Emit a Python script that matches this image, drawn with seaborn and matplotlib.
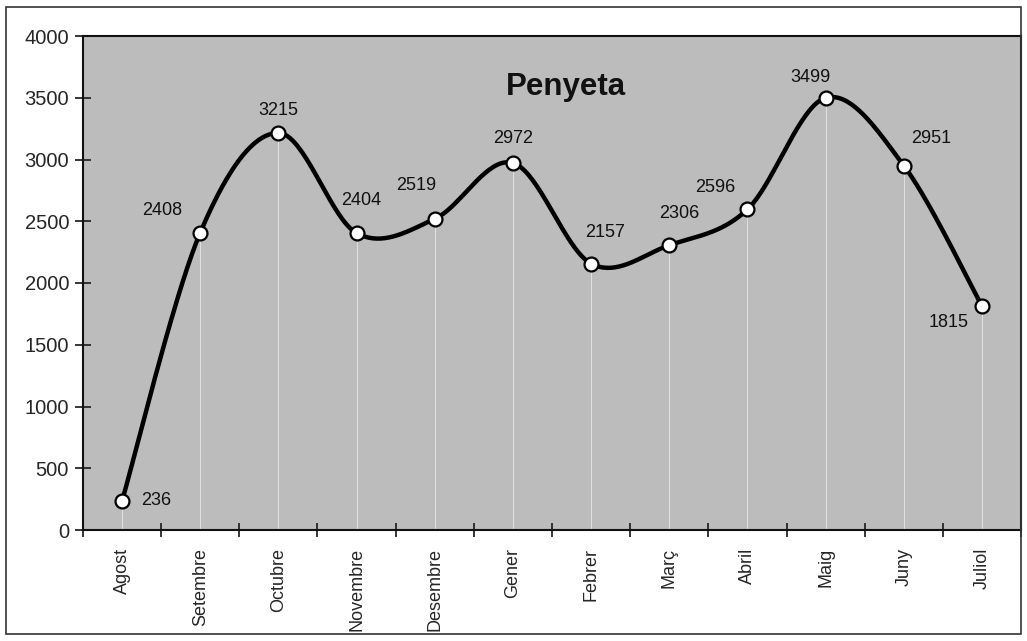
import numpy as np
import pandas as pd
import matplotlib
matplotlib.use("Agg")
import matplotlib.pyplot as plt
import seaborn as sns
from matplotlib.patches import Rectangle

# Data
months = ["Agost", "Setembre", "Octubre", "Novembre", "Desembre", "Gener",
          "Febrer", "Març", "Abril", "Maig", "Juny", "Juliol"]
values = [236, 2408, 3215, 2404, 2519, 2972, 2157, 2306, 2596, 3499, 2951, 1815]
title = "Penyeta"
yticks = [0, 500, 1000, 1500, 2000, 2500, 3000, 3500, 4000]

# label offsets (pixels) relative to each point
label_dx = [34, -38, 0, 5, -19, 0, 14, 10, -32, -15, 27, -33]
label_dy = [0, 22, 22, 33, 33, 24, 31, 32, 22, 20, 27, -17]

sns.set_style("ticks")
plt.rcParams["font.family"] = ["Liberation Sans", "DejaVu Sans"]

df = pd.DataFrame({"x": np.arange(len(months)), "y": values})


# smoothed line like a spreadsheet "smooth line" (Bezier through the points)
def smooth(xs, ys, n=40):
    P = np.column_stack([xs, ys]).astype(float)
    P = np.vstack([P[0], P, P[-1]])
    out = []
    t = np.linspace(0, 1, n)[:, None]
    for i in range(1, len(P) - 2):
        p0, p3 = P[i], P[i + 1]
        p1 = p0 + (P[i + 1] - P[i - 1]) / 6
        p2 = p3 - (P[i + 2] - P[i]) / 6
        seg = ((1 - t) ** 3) * p0 + 3 * ((1 - t) ** 2) * t * p1 + 3 * (1 - t) * t ** 2 * p2 + t ** 3 * p3
        out.append(seg)
    return np.vstack(out)


curve = smooth(df["x"], df["y"])
curve_df = pd.DataFrame({"x": curve[:, 0], "y": curve[:, 1]})

fig = plt.figure(figsize=(10.27, 6.41), dpi=100)
fig.patches.append(Rectangle((6 / 1027, 1 - 634 / 641), 1015 / 1027, 627 / 641,
                             transform=fig.transFigure, fill=False,
                             edgecolor="#333333", linewidth=1.2))
ax = fig.add_axes([83 / 1027, 1 - 530 / 641, 938 / 1027, 494 / 641])
ax.set_facecolor("#bcbcbc")

# faint drop lines under each point
ax.vlines(df["x"], 0, df["y"], color="#dedede", linewidth=0.8, zorder=1)

sns.lineplot(data=curve_df, x="x", y="y", ax=ax, color="black", linewidth=3.2,
             sort=False, estimator=None, zorder=3)
sns.scatterplot(data=df, x="x", y="y", ax=ax, s=100, color="white",
                edgecolor="black", linewidth=1.6, zorder=4)

for i, (xv, yv) in enumerate(zip(df["x"], df["y"])):
    ax.annotate(str(yv), (xv, yv), xytext=(label_dx[i] * 0.72, label_dy[i] * 0.72),
                textcoords="offset points", ha="center", va="center",
                fontsize=13, color="#111111", zorder=5)

ax.text(0.515, 0.897, title, transform=ax.transAxes, ha="center", va="center",
        fontsize=22.5, fontweight="bold", color="#111111")

ax.set_xlim(-0.5, len(months) - 0.5)
ax.set_ylim(0, 4000)
ax.set_yticks(yticks)
ax.set_yticklabels([str(v) for v in yticks], fontsize=14.5)
ax.set_xticks(df["x"])
ax.set_xticklabels(months, rotation=90, fontsize=13)
ax.tick_params(axis="x", length=0, pad=13)
# boundary ticks between categories
ax.set_xticks(np.arange(len(months) + 1) - 0.5, minor=True)
ax.tick_params(axis="x", which="minor", direction="inout", length=10, width=1.3)
ax.tick_params(axis="y", direction="inout", length=12, width=1.3, pad=4)
ax.set_xlabel("")
ax.set_ylabel("")
for s in ax.spines.values():
    s.set_visible(True)
    s.set_linewidth(1.5)
    s.set_color("#111111")

fig.savefig("out.png", dpi=100)
